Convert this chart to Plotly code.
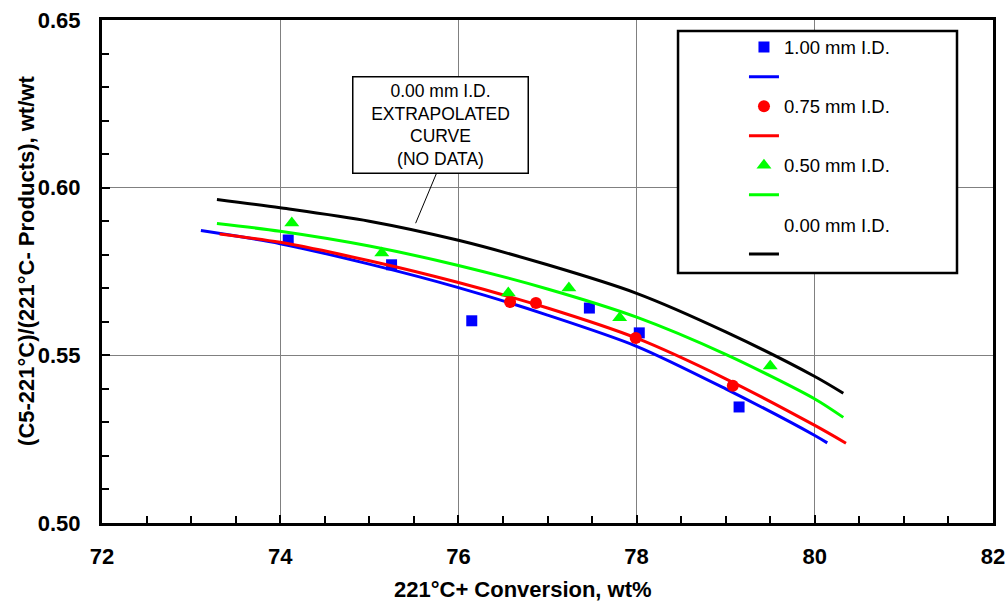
import plotly.graph_objects as go

# ---- data ----
x_100 = [74.09, 75.25, 76.15, 77.47, 78.03, 79.15]
y_100 = [0.5844, 0.5770, 0.5603, 0.5641, 0.5567, 0.5346]

x_075 = [76.58, 76.87, 77.99, 79.08]
y_075 = [0.5659, 0.5656, 0.5552, 0.5409]

x_050 = [74.13, 75.14, 76.56, 77.24, 77.81, 79.50]
y_050 = [0.5895, 0.5805, 0.5686, 0.5701, 0.5612, 0.5468]

cx_100 = [73.11, 74.0, 75.0, 76.0, 77.0, 78.0, 79.0, 80.0, 80.14]
cy_100 = [0.5872, 0.5833, 0.5772, 0.5702, 0.5620, 0.5527, 0.5400, 0.5261, 0.5239]

cx_075 = [73.32, 74.0, 75.0, 76.0, 77.0, 78.0, 79.0, 80.0, 80.35]
cy_075 = [0.5862, 0.5837, 0.5782, 0.5717, 0.5641, 0.5551, 0.5430, 0.5291, 0.5238]

cx_050 = [73.29, 74.0, 75.0, 76.0, 77.0, 78.0, 79.0, 80.0, 80.32]
cy_050 = [0.5893, 0.5870, 0.5826, 0.5768, 0.5698, 0.5614, 0.5503, 0.5370, 0.5315]

cx_000 = [73.29, 74.0, 75.0, 76.0, 77.0, 78.0, 79.0, 80.0, 80.32]
cy_000 = [0.5965, 0.5940, 0.5900, 0.5843, 0.5770, 0.5685, 0.5570, 0.5437, 0.5387]

names = ["1.00 mm I.D.", "0.75 mm I.D.", "0.50 mm I.D.", "0.00 mm I.D."]
x_ticks = [72, 74, 76, 78, 80, 82]
y_ticks = [0.50, 0.55, 0.60, 0.65]
x_title = "221°C+ Conversion, wt%"
y_title = "(C5-221°C)/(221°C- Products), wt/wt"

BLUE = "#0000FF"
RED = "#FF0000"
GREEN = "#00FF00"
BLACK = "#000000"

fig = go.Figure()

def add_pair(idx, px, py, lx, ly, color, symbol, msize):
    fig.add_trace(go.Scatter(
        x=px, y=py, mode="markers", name=names[idx],
        marker=dict(color=color, symbol=symbol, size=msize, line=dict(width=0)),
        legendgroup=f"m{idx}", legendrank=idx * 2 + 1))
    fig.add_trace(go.Scatter(
        x=lx, y=ly, mode="lines", name=" ",
        line=dict(color=color, width=3, shape="spline", smoothing=0.8),
        legendgroup=f"l{idx}", legendrank=idx * 2 + 2))

add_pair(0, x_100, y_100, cx_100, cy_100, BLUE, "square", 11)
add_pair(1, x_075, y_075, cx_075, cy_075, RED, "circle", 12)
add_pair(2, x_050, y_050, cx_050, cy_050, GREEN, "triangle-up", 13)
add_pair(3, [None], [None], cx_000, cy_000, BLACK, "circle", 1)
fig.data[6].marker.color = "rgba(0,0,0,0)"

FONT = "Arial, Liberation Sans, sans-serif"
axis_font = dict(family=FONT, size=22, color="black", weight="bold")

fig.update_layout(
    width=1008, height=606,
    margin=dict(l=102, r=15, t=20, b=83, autoexpand=False),
    paper_bgcolor="white", plot_bgcolor="white",
    font=dict(family=FONT, color="black"),
    showlegend=True,
    legend=dict(
        x=0.7205, xanchor="left", y=0.983, yanchor="top",
        bgcolor="rgba(0,0,0,0)", borderwidth=0,
        font=dict(size=18.5, color="black"),
        tracegroupgap=2.5, traceorder="grouped",
    ),
    xaxis=dict(
        range=[72, 82], tickvals=x_ticks, ticktext=[str(v) for v in x_ticks],
        showgrid=True, gridcolor="#808080", gridwidth=1,
        showline=True, linecolor="black", linewidth=3, mirror=True,
        ticks="inside", ticklen=8, tickwidth=2, tickcolor="black",
        minor=dict(dtick=0.5, ticks="inside", ticklen=7, tickwidth=2, tickcolor="black", showgrid=False),
        tickfont=axis_font, ticklabelstandoff=12, ticklabeloverflow="allow",
        zeroline=False, automargin=False,
    ),
    yaxis=dict(
        range=[0.50, 0.65], tickvals=y_ticks, ticktext=[f"{v:.2f}" for v in y_ticks],
        showgrid=True, gridcolor="#808080", gridwidth=1,
        showline=True, linecolor="black", linewidth=3, mirror=True,
        ticks="inside", ticklen=8, tickwidth=2, tickcolor="black",
        minor=dict(dtick=0.01, ticks="inside", ticklen=7, tickwidth=2, tickcolor="black", showgrid=False),
        tickfont=axis_font, ticklabelstandoff=14, ticklabeloverflow="allow",
        zeroline=False, automargin=False,
    ),
)

# axis titles
fig.add_annotation(x=0.4725, y=-0.133, xref="paper", yref="paper", showarrow=False,
                   text=x_title, font=axis_font, xanchor="center", yanchor="middle")
fig.add_annotation(x=-0.0842, y=0.521, xref="paper", yref="paper", showarrow=False,
                   text=y_title, font=axis_font, textangle=-90,
                   xanchor="center", yanchor="middle")

# legend frame (white box)
fig.add_shape(type="rect", xref="paper", yref="paper",
              x0=0.6465, x1=0.9596, y0=0.497, y1=0.978,
              line=dict(color="black", width=2.5), fillcolor="white", layer="above")

# annotation box and leader line
fig.add_annotation(
    x=75.80, y=0.6187, xref="x", yref="y", showarrow=False,
    text="0.00 mm I.D.<br>EXTRAPOLATED<br>CURVE<br>(NO DATA)",
    font=dict(size=17.5, color="black", family=FONT),
    align="center", bgcolor="white", bordercolor="black", borderwidth=1.5,
    width=170, height=91, borderpad=2,
)
fig.add_shape(type="line", xref="x", yref="y",
              x0=75.756, y0=0.6044, x1=75.52, y1=0.5894,
              line=dict(color="black", width=1))

fig.write_html(
    "out.html",
    config={"displayModeBar": False},
    post_script="document.body.style.margin='0';document.body.style.overflow='hidden';",
)
